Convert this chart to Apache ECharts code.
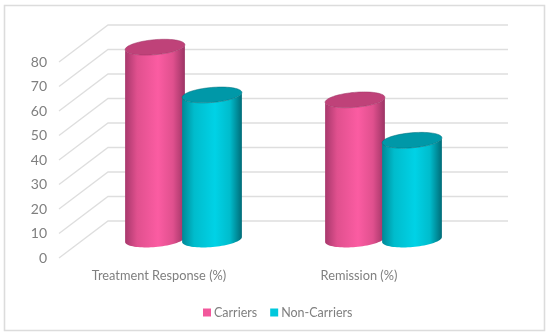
<!DOCTYPE html>
<html lang="en">
  <head>
    <meta charset="UTF-8" />
    <title>Carriers vs Non-Carriers</title>
    <style>
      * {
        padding: 0;
        margin: 0;
      }
      body {
        background: #fff;
      }
      #container {
        width: 550px;
        height: 336px;
      }
    </style>
    <script src="https://cdn.jsdelivr.net/npm/echarts@6/dist/echarts.min.js"></script>
  </head>
  <body>
    <div id="container"></div>
    <script type="text/javascript">
      const categories = ['Treatment Response (%)', 'Remission (%)']
      const carriers = [78.5, 57]
      const nonCarriers = [59, 40.5]
      const tickValues = [0, 10, 20, 30, 40, 50, 60, 70, 80]

      // fake 3d: the back wall sits this far from the axis plane
      const depthX = 49
      const depthY = -37
      const radiusX = 30
      const radiusY = 7.5
      const tilt = (-5 * Math.PI) / 180
      const barOffset = 28.5

      const textColor = '#7f7f7f'
      const fontFamily = 'Lato, "Open Sans", sans-serif'

      function ellipsePoint(cx, cy, t) {
        const px = radiusX * Math.cos(t)
        const py = radiusY * Math.sin(t)
        return [
          cx + px * Math.cos(tilt) - py * Math.sin(tilt),
          cy + px * Math.sin(tilt) + py * Math.cos(tilt),
        ]
      }

      function cylinder(side, colors) {
        return function (params, api) {
          const top = api.coord([api.value(0), api.value(1)])
          const base = api.coord([api.value(0), 0])
          const cx = top[0] + depthX / 2 + side * barOffset
          const topY = top[1] + depthY / 2
          const baseY = base[1] + depthY / 2

          // side of the cylinder: top half of the outline is hidden by the cap
          const body = []
          const steps = 40
          for (let i = 0; i <= steps; i++) {
            body.push(ellipsePoint(cx, baseY, (Math.PI * i) / steps))
          }
          for (let i = 0; i <= steps; i++) {
            body.push(ellipsePoint(cx, topY, Math.PI - (Math.PI * i) / steps))
          }
          const cap = []
          for (let i = 0; i < steps * 2; i++) {
            cap.push(ellipsePoint(cx, topY, (Math.PI * i) / steps))
          }

          return {
            type: 'group',
            children: [
              {
                type: 'polygon',
                shape: { points: body },
                style: {
                  fill: new echarts.graphic.LinearGradient(0, 0, 1, 0, [
                    { offset: 0, color: colors[0] },
                    { offset: 0.2, color: colors[1] },
                    { offset: 0.55, color: colors[2] },
                    { offset: 0.8, color: colors[1] },
                    { offset: 1, color: colors[3] },
                  ]),
                },
              },
              {
                type: 'polygon',
                shape: { points: cap },
                style: { fill: colors[4], stroke: colors[3], lineWidth: 0.5 },
              },
            ],
          }
        }
      }

      function wallLine(params, api) {
        const p = api.coord([0, api.value(1)])
        const rect = params.coordSys
        const y = p[1]
        return {
          type: 'polyline',
          shape: {
            points: [
              [rect.x, y],
              [rect.x + depthX, y + depthY],
              [rect.x + depthX + rect.width, y + depthY],
            ],
          },
          style: { fill: 'none', stroke: '#dedede', lineWidth: 1.3 },
        }
      }

      const chart = echarts.init(document.getElementById('container'))

      const option = {
        animation: false,
        graphic: [
          {
            type: 'rect',
            z: -1,
            shape: { x: 4.5, y: 5.5, width: 540, height: 325 },
            style: { fill: '#fff', stroke: '#dcdcdc', lineWidth: 1.6 },
          },
        ],
        grid: { left: 59, top: 62, width: 400, height: 196 },
        legend: {
          data: ['Carriers', 'Non-Carriers'],
          left: 198,
          top: 301,
          icon: 'rect',
          itemWidth: 8,
          itemHeight: 8,
          itemGap: 13,
          textStyle: {
            color: textColor,
            fontFamily: fontFamily,
            fontSize: 12.5,
            padding: [0, 0, 0, -2],
          },
        },
        xAxis: {
          type: 'category',
          data: categories,
          axisLine: { show: false },
          axisTick: { show: false },
          axisLabel: {
            color: textColor,
            fontFamily: fontFamily,
            fontSize: 12.8,
            margin: 11,
          },
        },
        yAxis: {
          type: 'value',
          min: 0,
          max: 80,
          interval: 10,
          splitLine: { show: false },
          axisLine: { show: false },
          axisTick: { show: false },
          axisLabel: {
            color: textColor,
            fontFamily: fontFamily,
            fontSize: 14,
            margin: 12,
          },
        },
        series: [
          {
            name: 'wall',
            type: 'custom',
            silent: true,
            clip: false,
            z: 1,
            renderItem: wallLine,
            data: tickValues.map((v) => [0, v]),
          },
          {
            name: 'Carriers',
            type: 'custom',
            clip: false,
            z: 2,
            itemStyle: { color: '#f2589c' },
            renderItem: cylinder(-1, [
              '#a8386c',
              '#e0508e',
              '#fb5ca2',
              '#9c3464',
              '#bf4279',
            ]),
            data: carriers.map((v, i) => [i, v]),
          },
          {
            name: 'Non-Carriers',
            type: 'custom',
            clip: false,
            z: 3,
            itemStyle: { color: '#00c8dc' },
            renderItem: cylinder(1, [
              '#008896',
              '#00bccc',
              '#00d2e6',
              '#006c78',
              '#0098a8',
            ]),
            data: nonCarriers.map((v, i) => [i, v]),
          },
        ],
      }

      chart.setOption(option)
    </script>
  </body>
</html>
